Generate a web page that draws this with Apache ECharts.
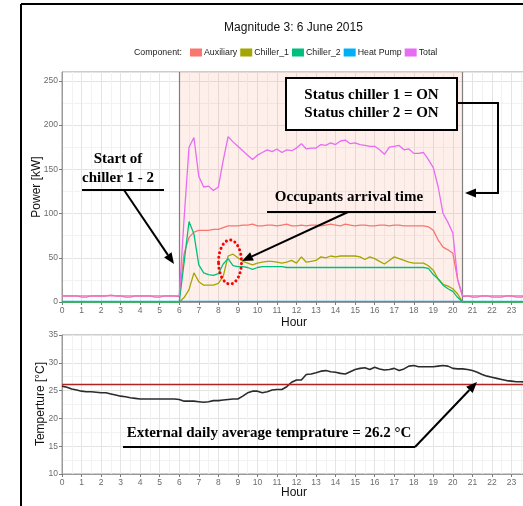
<!DOCTYPE html>
<html>
<head>
<meta charset="utf-8">
<script src="https://cdn.jsdelivr.net/npm/echarts@6/dist/echarts.min.js"></script>
<style>
  html, body { margin: 0; padding: 0; background: #fff; }
  #chart { width: 523px; height: 506px; }
</style>
</head>
<body>
<div id="chart"></div>
<script>
// Quarter-hour power readings (kW), 00:00 to 23:45
const total = [
  7, 7, 7, 7, 7, 7, 7, 7, 7, 7, 7, 7, 7, 7, 7, 7, 7, 7, 7, 7, 7, 7, 7, 7,
  7, 95, 175, 186, 142, 130, 131, 126, 130, 160, 187, 181, 176, 171, 166, 161,
  166, 169, 172, 170, 173, 169, 172, 171, 174, 179, 173, 174, 174, 178, 177, 180,
  178, 182, 183, 179, 180, 178, 177, 176, 176, 172, 167, 175, 176, 177, 172, 173,
  168, 168, 169, 161, 152, 130, 100, 90, 78, 25, 7,
  7, 7, 7, 7, 7, 7, 7, 7, 7, 7, 7, 7, 7
];
const auxiliary = [
  6.8, 6.8, 6.8, 6.8, 5.5, 5.5, 6.8, 6.8, 6.8, 6.8, 7.8, 6.8,
  6.8, 5.5, 5.5, 6.8, 6.8, 6.8, 6.8, 5.5, 5.5, 6.8, 6.8, 6.8,
  6, 55, 73, 79, 81, 81, 81, 82, 82, 84, 86, 86, 86, 87, 87, 88,
  86, 86, 87, 87, 86, 87, 88, 86, 86, 87, 86, 87, 87, 86, 87, 88,
  87, 86, 88, 87, 86, 87, 87, 86, 86, 87, 87, 86, 87, 87, 86, 86,
  86, 86, 86, 85, 81, 70, 62, 59, 55, 25, 6,
  6.8, 5.5, 5.5, 6.8, 6.8, 5.5, 5.5, 5.5, 6.8, 6.8, 5.5, 5.5, 6.8
];
const chiller1 = [
  0, 0, 0, 0, 0, 0, 0, 0, 0, 0, 0, 0, 0, 0, 0, 0, 0, 0, 0, 0, 0, 0, 0, 0,
  0, 5, 14, 33, 23, 19, 19, 19, 21, 29, 52, 54, 50, 46, 44, 42,
  44, 45, 46, 46, 45, 44, 45, 47, 44, 51, 45, 46, 47, 51, 50, 52,
  51, 52, 52, 52, 52, 51, 48, 51, 49, 46, 43, 47, 51, 49, 47, 45,
  44, 44, 44, 41, 36, 26, 20, 18, 15, 9, 0,
  0, 0, 0, 0, 0, 0, 0, 0, 0, 0, 0, 0, 0
];
const chiller2 = [
  0, 0, 0, 0, 0, 0, 0, 0, 0, 0, 0, 0, 0, 0, 0, 0, 0, 0, 0, 0, 0, 0, 0, 0,
  0, 45, 91, 77, 42, 33, 31, 30, 32, 43, 49, 41, 40, 40, 39, 37,
  39, 40, 40, 40, 40, 40, 39, 39, 39, 39, 39, 39, 39, 39, 39, 39,
  39, 39, 39, 39, 39, 39, 39, 39, 39, 39, 39, 39, 39, 39, 39, 39,
  39, 39, 39, 38, 31, 26, 19, 15, 12, 5, 0,
  0, 0, 0, 0, 0, 0, 0, 0, 0, 0, 0, 0, 0
];
const heatPump = [
  0.6, 0.6, 0.6, 0.6, 0.6, 0.6, 0.6, 0.6, 0.6, 0.6, 0.6, 0.6,
  0.6, 0.6, 0.6, 0.6, 0.6, 0.6, 0.6, 0.6, 0.6, 0.6, 0.6, 0.6,
  0.6, 0.6, 0.6, 0.6, 0.6, 0.6, 0.6, 0.6, 0.6, 0.6, 0.6, 0.6,
  0.6, 0.6, 0.6, 0.6, 0.6, 0.6, 0.6, 0.6, 0.6, 0.6, 0.6, 0.6,
  0.6, 0.6, 0.6, 0.6, 0.6, 0.6, 0.6, 0.6, 0.6, 0.6, 0.6, 0.6,
  0.6, 0.6, 0.6, 0.6, 0.6, 0.6, 0.6, 0.6, 0.6, 0.6, 0.6, 0.6,
  0.6, 0.6, 0.6, 0.6, 0.6, 0.6, 0.6, 0.6, 0.6, 0.6, 0.6, 0.6,
  0.6, 0.6, 0.6, 0.6, 0.6, 0.6, 0.6, 0.6, 0.6, 0.6, 0.6, 0.6
];
// Outdoor temperature (°C), quarter-hourly
const temperature = [
  25.8, 25.6, 25.3, 25.1, 24.9, 24.8, 24.8, 24.7, 24.6, 24.6, 24.4, 24.2,
  24.0, 23.9, 23.7, 23.6, 23.5, 23.5, 23.5, 23.5, 23.5, 23.5, 23.5, 23.5,
  23.4, 23.1, 23.1, 23.1, 23.0, 22.9, 23.0, 23.2, 23.2, 23.3, 23.4, 23.5,
  23.5, 24.0, 24.6, 24.9, 24.9, 24.6, 24.8, 25.1, 25.2, 25.2, 25.7, 26.5,
  26.9, 26.9, 27.9, 28.0, 28.2, 28.5, 28.6, 28.4, 28.3, 28.1, 28.0, 28.4,
  28.8, 29.0, 29.1, 28.8, 29.2, 28.9, 28.7, 28.8, 29.0, 28.6, 28.9, 29.4,
  29.5, 29.3, 29.3, 29.3, 29.3, 29.4, 29.5, 29.4, 29.0, 28.9, 28.9, 28.8,
  28.6, 28.3, 27.9, 27.6, 27.4, 27.2, 27.0, 26.8, 26.7, 26.6, 26.6, 26.5
];
const dailyMeanTemp = 26.2;
const chillerOn = 6;
const chillerOff = 20.5;
const componentNames = ['Auxiliary', 'Chiller_1', 'Chiller_2', 'Heat Pump', 'Total'];
const componentColors = ['#F8766D', '#A3A500', '#00BF7D', '#00B0F6', '#E76BF3'];

const hours = temperature.map((_, i) => i * 0.25);
const pairs = arr => arr.map((v, i) => [hours[i], v]);

const SANS = '"Liberation Sans", Arial, sans-serif';
const SERIF = '"Liberation Serif", "Times New Roman", serif';

function xAxis(gridIndex) {
  return {
    type: 'value', gridIndex, min: 0, max: 24, interval: 1,
    axisLine: { show: true, onZero: false, lineStyle: { color: '#9a9a9a', width: 1 } },
    axisTick: { show: true, length: 3, lineStyle: { color: '#7a7a7a' } },
    axisLabel: { fontSize: 8.5, color: '#6b6b6b', fontFamily: SANS, margin: 4,
      formatter: v => (v < 24 ? String(v) : '') },
    splitLine: { show: true, lineStyle: { color: '#e4e4e4', width: 1 } },
    minorTick: { show: false, splitNumber: 2 },
    minorSplitLine: { show: true, lineStyle: { color: '#f2f2f2', width: 1 } }
  };
}
function yAxis(gridIndex, min, max, interval) {
  return {
    type: 'value', gridIndex, min, max, interval,
    axisLine: { show: true, lineStyle: { color: '#9a9a9a', width: 1 } },
    axisTick: { show: true, length: 3, lineStyle: { color: '#7a7a7a' } },
    axisLabel: { fontSize: 8.5, color: '#6b6b6b', fontFamily: SANS, margin: 4,
      showMaxLabel: max % interval === 0 },
    splitLine: { show: true, lineStyle: { color: '#e4e4e4', width: 1 } },
    minorTick: { show: false, splitNumber: 2 },
    minorSplitLine: { show: true, lineStyle: { color: '#f2f2f2', width: 1 } }
  };
}

const componentSeries = [auxiliary, chiller1, chiller2, heatPump, total].map((arr, k) => ({
  name: componentNames[k],
  type: 'line',
  xAxisIndex: 0, yAxisIndex: 0,
  data: pairs(arr),
  showSymbol: false,
  symbol: 'none',
  color: componentColors[k],
  lineStyle: { width: 1.3, color: componentColors[k] },
  itemStyle: { color: componentColors[k] },
  z: 3 + k,
  silent: true
}));

// Arrow helper for the callouts
function arrow(x1, y1, x2, y2) {
  const a = Math.atan2(y2 - y1, x2 - x1);
  const len = 11, w = 4.5;
  const bx = x2 - len * Math.cos(a), by = y2 - len * Math.sin(a);
  const px = -Math.sin(a) * w, py = Math.cos(a) * w;
  return [
    { type: 'line', z: 100, shape: { x1, y1, x2: bx, y2: by }, style: { stroke: '#000', lineWidth: 2 } },
    { type: 'polygon', z: 100, shape: { points: [[x2, y2], [bx + px, by + py], [bx - px, by - py]] },
      style: { fill: '#000' } }
  ];
}
function hline(x1, x2, y) {
  return { type: 'line', z: 100, shape: { x1, y1: y, x2, y2: y }, style: { stroke: '#000', lineWidth: 2 } };
}
function label(text, x, y, size) {
  return { type: 'text', z: 101, style: { text, x, y, fill: '#000',
    font: 'bold ' + (size || 15) + 'px ' + SERIF, align: 'center', verticalAlign: 'middle' } };
}

// Legend row: keys laid out one after another, sized from the text width
const LEGEND_FONT = '8.8px ' + SANS;
const measureCtx = document.createElement('canvas').getContext('2d');
measureCtx.font = LEGEND_FONT;
const legendItems = [];
{
  let x = 190;
  componentNames.forEach((name, k) => {
    legendItems.push({ type: 'rect', z: 101, shape: { x, y: 48.5, width: 12, height: 8 },
      style: { fill: componentColors[k] } });
    legendItems.push({ type: 'text', z: 101, style: { text: name, x: x + 14, y: 52.5,
      font: LEGEND_FONT, fill: '#222', align: 'left', verticalAlign: 'middle' } });
    x += 14 + measureCtx.measureText(name).width + 3;
  });
}

const graphics = [
  // frame
  { type: 'line', z: 100, shape: { x1: 21, y1: 4, x2: 21, y2: 506 }, style: { stroke: '#000', lineWidth: 2 } },
  { type: 'line', z: 100, shape: { x1: 21, y1: 4, x2: 523, y2: 4 }, style: { stroke: '#000', lineWidth: 2 } },
  // title and legend
  { type: 'text', z: 101, style: { text: 'Magnitude 3: 6 June 2015', x: 293.5, y: 28,
      font: '12px ' + SANS, fill: '#111', align: 'center', verticalAlign: 'middle' } },
  { type: 'text', z: 101, style: { text: 'Component:', x: 134, y: 52.5,
      font: LEGEND_FONT, fill: '#222', align: 'left', verticalAlign: 'middle' } },
  ...legendItems,
  // axis titles
  { type: 'text', z: 101, rotation: Math.PI / 2, x: 37, y: 187,
    style: { text: 'Power [kW]', x: 0, y: 0, font: '12px ' + SANS, fill: '#111', align: 'center', verticalAlign: 'middle' } },
  { type: 'text', z: 101, rotation: Math.PI / 2, x: 41, y: 404,
    style: { text: 'Temperture [°C]', x: 0, y: 0, font: '12px ' + SANS, fill: '#111', align: 'center', verticalAlign: 'middle' } },
  { type: 'text', z: 101, style: { text: 'Hour', x: 294, y: 323, font: '12px ' + SANS, fill: '#111',
      align: 'center', verticalAlign: 'middle' } },
  { type: 'text', z: 101, style: { text: 'Hour', x: 294, y: 493, font: '12px ' + SANS, fill: '#111',
      align: 'center', verticalAlign: 'middle' } },

  // "Start of chiller 1 - 2"
  label('Start of', 118, 159),
  label('chiller 1 - 2', 118, 178),
  hline(82, 164, 190),
  ...arrow(124, 190, 174, 264),

  // status box
  { type: 'rect', z: 100, shape: { x: 286, y: 78, width: 171, height: 52 },
    style: { fill: '#fff', stroke: '#000', lineWidth: 2 } },
  label('Status chiller 1 = ON', 371.5, 95),
  label('Status chiller 2 = ON', 371.5, 113),
  { type: 'polyline', z: 100, shape: { points: [[457, 103], [498, 103], [498, 193], [474, 193]] },
    style: { stroke: '#000', lineWidth: 2, fill: null } },
  ...arrow(480, 193, 465, 193),

  // occupants arrival
  label('Occupants arrival time', 349, 197),
  hline(267, 436, 212),
  ...arrow(348, 212, 242, 261),
  { type: 'ellipse', z: 100, shape: { cx: 230, cy: 262, rx: 11.5, ry: 22 },
    style: { fill: null, stroke: '#ff0000', lineWidth: 3, lineDash: [0.1, 4.5], lineCap: 'round' } },

  // daily average temperature callout
  label('External daily average temprature = 26.2 °C', 269, 433),
  hline(123, 415, 447),
  ...arrow(415, 447, 477, 382)
];

const option = {
  animation: false,
  backgroundColor: '#fff',
  textStyle: { fontFamily: SANS },
  grid: [
    { left: 62, top: 72, width: 469, height: 230, show: true, borderColor: '#9a9a9a', borderWidth: 1,
      outerBoundsMode: 'none' },
    { left: 62, top: 335, width: 469, height: 139, show: true, borderColor: '#9a9a9a', borderWidth: 1,
      outerBoundsMode: 'none' }
  ],
  xAxis: [xAxis(0), xAxis(1)],
  yAxis: [yAxis(0, 0, 260, 50), yAxis(1, 10, 35, 5)],
  series: [
    {
      name: 'operating window', type: 'line', xAxisIndex: 0, yAxisIndex: 0, data: [],
      z: 1, silent: true,
      markArea: {
        silent: true,
        itemStyle: { color: 'rgba(245, 130, 100, 0.13)' },
        data: [[{ xAxis: chillerOn }, { xAxis: chillerOff }]]
      },
      markLine: {
        silent: true, symbol: 'none',
        lineStyle: { color: '#7f7f7f', width: 1.2, type: 'solid' },
        label: { show: false },
        data: [{ xAxis: chillerOn }, { xAxis: chillerOff }]
      }
    },
    ...componentSeries,
    {
      name: 'Temperature', type: 'line', xAxisIndex: 1, yAxisIndex: 1,
      data: pairs(temperature), showSymbol: false, symbol: 'none',
      lineStyle: { width: 1.6, color: '#2b2b2b' }, color: '#2b2b2b', z: 4, silent: true,
      markLine: {
        silent: true, symbol: 'none',
        lineStyle: { color: '#b22222', width: 1.4, type: 'solid' },
        label: { show: false },
        data: [{ yAxis: dailyMeanTemp }]
      }
    }
  ],
  graphic: graphics
};

const chart = echarts.init(document.getElementById('chart'), null, { renderer: 'canvas' });
chart.setOption(option);
</script>
</body>
</html>
